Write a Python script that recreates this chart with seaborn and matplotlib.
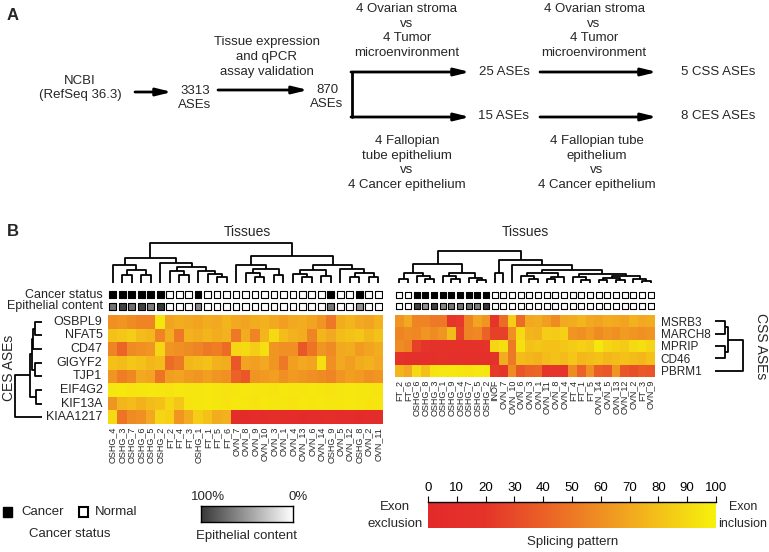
import numpy as np
import pandas as pd
import matplotlib
matplotlib.use("Agg")
import matplotlib.pyplot as plt
import seaborn as sns
from matplotlib.colors import LinearSegmentedColormap
from matplotlib.patches import Rectangle

# ---------------- data ----------------
ces_genes = ["OSBPL9", "NFAT5", "CD47", "GIGYF2", "TJP1", "EIF4G2", "KIF13A", "KIAA1217"]
left_samples = ["OSHG_4", "OSHG_3", "OSHG_7", "OSHG_6", "OSHG_5", "OSHG_2", "FT_2", "FT_4",
                "FT_3", "OSHG_1", "FT_1", "FT_5", "FT_6", "OVN_7", "OVN_8", "OVN_9", "OVN_10",
                "OVN_3", "OVN_1", "OVN_4", "OVN_13", "OVN_6", "OVN_14", "OSHG_9", "OVN_5",
                "OVN_12", "OSHG_8", "OVN_2", "OVN_11"]
osbpl9 = [60, 62, 58, 55, 55, 95, 68, 72, 70, 68, 72, 70, 75, 70, 68, 72, 74, 70, 66, 70,
          72, 68, 62, 50, 72, 75, 70, 68, 74]
nfat5 = [80, 82, 85, 78, 76, 55, 72, 50, 74, 72, 75, 72, 74, 50, 72, 55, 75, 90, 78, 74,
         72, 55, 75, 70, 78, 80, 82, 76, 80]
cd47 = [55, 42, 58, 60, 62, 88, 62, 60, 58, 55, 50, 52, 45, 88, 90, 85, 92, 62, 60, 60,
        35, 48, 62, 58, 70, 72, 65, 68, 72]
gigyf2 = [80, 78, 82, 80, 76, 78, 45, 50, 76, 78, 80, 74, 72, 35, 68, 66, 70, 62, 50, 66,
          70, 68, 92, 60, 70, 66, 72, 74, 70]
tjp1 = [62, 52, 56, 70, 68, 48, 66, 68, 64, 62, 66, 62, 60, 40, 35, 62, 64, 66, 60, 64,
        62, 60, 58, 55, 62, 66, 64, 60, 62]
eif4g2 = [95, 96, 94, 95, 96, 95, 94, 96, 95, 95, 96, 95, 94, 95, 96, 95, 95, 94, 96, 95,
          95, 96, 95, 94, 95, 96, 95, 95, 94]
kif13a = [62, 75, 78, 74, 78, 80, 88, 82, 94, 95, 96, 95, 94, 96, 95, 94, 96, 95, 95, 94,
          96, 95, 96, 95, 95, 96, 95, 94, 95]
kiaa1217 = [90, 48, 58, 60, 70, 88, 86, 62, 72, 85, 80, 72, 74, 5, 4, 6, 5, 8, 5, 6,
            4, 6, 5, 8, 6, 5, 4, 6, 5]

css_genes = ["MSRB3", "MARCH8", "MPRIP", "CD46", "PBRM1"]
right_samples = ["FT_2", "FT_6", "OSHG_6", "OSHG_8", "OSHG_3", "OSHG_1", "OSHG_9", "OSHG_4",
                 "OSHG_7", "OSHG_5", "OSHG_2", "INOF", "OVN_7", "OVN_10", "OVN_6", "OVN_3",
                 "OVN_1", "OVN_11", "OVN_8", "OVN_4", "FT_4", "FT_1", "FT_5", "OVN_14",
                 "OVN_5", "OVN_13", "OVN_12", "OVN_2", "FT_3", "OVN_9"]
msrb3 = [62, 70, 55, 55, 50, 50, 20, 22, 55, 68, 62, 20, 45, 85, 45, 70, 72, 66, 58, 70,
         72, 75, 70, 68, 72, 70, 68, 74, 70, 72]
march8 = [55, 58, 56, 62, 58, 62, 78, 25, 55, 56, 40, 25, 25, 60, 90, 75, 74, 85, 84, 86,
          62, 60, 64, 58, 62, 60, 65, 62, 60, 62]
mprip = [58, 55, 25, 18, 15, 15, 14, 15, 14, 15, 16, 88, 92, 50, 92, 80, 82, 80, 80, 82,
         84, 86, 84, 95, 88, 86, 84, 90, 92, 88]
cd46 = [15, 12, 12, 10, 12, 14, 10, 12, 10, 12, 10, 14, 72, 50, 78, 76, 74, 78, 80, 78,
        82, 76, 78, 80, 76, 78, 80, 78, 76, 80]
pbrm1 = [75, 70, 90, 80, 94, 95, 96, 95, 94, 96, 95, 22, 20, 58, 35, 40, 42, 20, 18, 20,
         58, 40, 60, 38, 36, 62, 35, 32, 36, 34]

cancer_samples = ["OSHG_1", "OSHG_2", "OSHG_3", "OSHG_4", "OSHG_5", "OSHG_6", "OSHG_7",
                  "OSHG_8", "OSHG_9"]
epithelial_pct = {"OSHG_4": 70, "OSHG_3": 95, "OSHG_7": 72, "OSHG_6": 95, "OSHG_5": 65,
                  "OSHG_2": 100, "OSHG_1": 60, "OSHG_9": 68, "OSHG_8": 55}

# dendrograms: (left, right, merge height); ints are leaves in display order
left_col_tree = (((0, ((1, 2, 8), (3, 4, 8), 13), 18),
                  (5, ((6, (7, 8, 8), 12), (9, (10, (11, 12, 6), 9), 12), 16), 20), 25),
                 ((13, ((14, (15, 16, 6), 10), (17, 18, 8), 14), 18),
                  ((((19, (20, 21, 6), 9), (22, 23, 7), 13)),
                   (24, ((25, 26, 6), (27, 28, 6), 10), 14), 18), 27), 40)
right_col_tree = ((((0, 1, 4), (2, (3, 4, 4), 7), 10),
                   ((5, (6, 7, 4), 7), (8, (9, 10, 3), 5), 10), 19),
                  ((11, 12, 10),
                   (13, (((14, (15, 16, 4), 7), ((17, 18, 4), 19, 6), 10),
                         ((20, (21, 22, 3), 6),
                          (((23, 24, 3), (25, 26, 3), 5), (27, (28, 29, 2), 4), 7), 9), 13), 18),
                   23), 32)
ces_row_tree = (((((0, 1, 7), 2, 9), (3, 4, 7), 10), (5, 6, 6), 12), 7, 27)
css_row_tree = (((0, 1, 10), (2, 3, 10), 13), 4, 28)

splice_ticks = list(range(0, 101, 10))

# ---------------- style ----------------
sns.set_style("white")
plt.rcParams["font.family"] = ["Liberation Sans", "DejaVu Sans"]

W, H = 769, 552
fig = plt.figure(figsize=(W / 100, H / 100), dpi=100)
fig.patch.set_facecolor("white")

splice_cmap = LinearSegmentedColormap.from_list(
    "splice", [(0, "#e32a2a"), (0.2, "#e5352a"), (0.45, "#ec6c26"),
               (0.7, "#f2a820"), (1.0, "#f7f20c")])
epi_cmap = LinearSegmentedColormap.from_list("epi", ["#ffffff", "#383838"])


def px_axes(x0, y0, x1, y1):
    return fig.add_axes([x0 / W, 1 - y1 / H, (x1 - x0) / W, (y1 - y0) / H])


def draw_tree(ax, tree, orient="top"):
    def walk(n):
        if isinstance(n, int):
            return n + 0.5, 0.0
        l, r, h = n
        xl, hl = walk(l)
        xr, hr = walk(r)
        xs, ys = [xl, xl, xr, xr], [hl, h, h, hr]
        if orient == "top":
            ax.plot(xs, ys, color="k", lw=1.3, solid_capstyle="butt")
        else:
            ax.plot(ys, xs, color="k", lw=1.3, solid_capstyle="butt")
        return (xl + xr) / 2, h
    walk(tree)
    ax.axis("off")


def annot_rows(ax, samples, size):
    n = len(samples)
    xs = np.arange(n) + 0.5
    cancer = ["k" if s in cancer_samples else "white" for s in samples]
    epi = [epi_cmap(epithelial_pct.get(s, 0) / 100) for s in samples]
    ax.scatter(xs, np.zeros(n), marker="s", s=size, c=cancer, edgecolors="k", linewidths=0.8)
    ax.scatter(xs, np.ones(n), marker="s", s=size, c=epi, edgecolors="k", linewidths=0.8)
    ax.set_xlim(0, n)
    ax.set_ylim(1.5, -0.5)
    ax.axis("off")


# overlay for free text
ax0 = px_axes(0, 0, W, H)
ax0.set_xlim(0, W)
ax0.set_ylim(H, 0)
ax0.axis("off")

fs = 9.5


def txt(x, y, s, **kw):
    kw.setdefault("fontsize", fs)
    kw.setdefault("ha", "center")
    kw.setdefault("va", "center")
    ax0.text(x, y, s, linespacing=1.3, **kw)


def arrow(x0, x1, y):
    ax0.annotate("", xy=(x1, y), xytext=(x0, y),
                 arrowprops=dict(arrowstyle="-|>,head_length=0.9,head_width=0.22",
                                 lw=2, color="k", shrinkA=0, shrinkB=0))


# ---------------- panel A ----------------
txt(13, 15, "A", fontsize=12, fontweight="bold")
txt(80, 88, "NCBI\n(RefSeq 36.3)")
arrow(135, 172, 92)
txt(195, 98, "3313\nASEs")
txt(267, 57, "Tissue expression\nand qPCR\nassay validation")
arrow(218, 308, 90)
txt(327, 97, "870\nASEs")
ax0.plot([352, 352], [72, 117], color="k", lw=2)
arrow(351, 470, 72)
arrow(351, 470, 117)
txt(407, 31, "4 Ovarian stroma\nvs\n4 Tumor\nmicroenvironment")
txt(407, 163, "4 Fallopian\ntube epithelium\nvs\n4 Cancer epithelium")
txt(504, 72, "25 ASEs")
txt(504, 116, "15 ASEs")
arrow(540, 657, 72)
arrow(540, 657, 117)
txt(594, 31, "4 Ovarian stroma\nvs\n4 Tumor\nmicroenvironment")
txt(597, 163, "4 Fallopian tube\nepithelium\nvs\n4 Cancer epithelium")
txt(718, 72, "5 CSS ASEs")
txt(718, 116, "8 CES ASEs")

# ---------------- panel B ----------------
txt(13, 232, "B", fontsize=12, fontweight="bold")
txt(247, 232, "Tissues", fontsize=10)
txt(525, 232, "Tissues", fontsize=10)

# left heatmap (CES)
ces_df = pd.DataFrame([osbpl9, nfat5, cd47, gigyf2, tjp1, eif4g2, kif13a, kiaa1217],
                      index=ces_genes, columns=left_samples)
axl = px_axes(108, 315, 383, 424)
sns.heatmap(ces_df, ax=axl, cmap=splice_cmap, vmin=0, vmax=100, cbar=False,
            xticklabels=True, yticklabels=True)
axl.set_xticklabels(left_samples, rotation=90, fontsize=6.5)
axl.set_yticklabels(ces_genes, rotation=0, fontsize=9)
axl.tick_params(length=0, pad=2)
axl.tick_params(axis="y", pad=4)
axl.set_xlabel("")
axl.set_ylabel("")

tl = px_axes(108, 240, 383, 283)
draw_tree(tl, left_col_tree)
tl.set_xlim(0, len(left_samples))
tl.set_ylim(0, 43)

annot_rows(px_axes(108, 289, 383, 312), left_samples, 24)
txt(103, 295, "Cancer status", fontsize=9, ha="right")
txt(103, 306, "Epithelial content", fontsize=9, ha="right")

rl = px_axes(12, 315, 42, 424)
draw_tree(rl, ces_row_tree, orient="left")
rl.set_xlim(30, 0)
rl.set_ylim(len(ces_genes), 0)
txt(9, 368, "CES ASEs", fontsize=10, rotation=90)

# right heatmap (CSS)
css_df = pd.DataFrame([msrb3, march8, mprip, cd46, pbrm1],
                      index=css_genes, columns=right_samples)
axr = px_axes(395, 315, 655, 377)
sns.heatmap(css_df, ax=axr, cmap=splice_cmap, vmin=0, vmax=100, cbar=False,
            xticklabels=True, yticklabels=True)
axr.yaxis.tick_right()
axr.set_xticklabels(right_samples, rotation=90, fontsize=6.5)
axr.set_yticklabels(css_genes, rotation=0, fontsize=8.5)
axr.tick_params(length=0, pad=2)
axr.tick_params(axis="y", pad=4)
axr.set_xlabel("")
axr.set_ylabel("")

tr = px_axes(395, 240, 655, 283)
draw_tree(tr, right_col_tree)
tr.set_xlim(0, len(right_samples))
tr.set_ylim(0, 43)

annot_rows(px_axes(395, 289, 655, 312), right_samples, 19)

rr = px_axes(715, 315, 746, 377)
draw_tree(rr, css_row_tree, orient="left")
rr.set_xlim(0, 31)
rr.set_ylim(len(css_genes), 0)
txt(761, 346, "CSS ASEs", fontsize=10, rotation=270)

# ---------------- legends ----------------
ax0.add_patch(Rectangle((3, 507), 9, 10, facecolor="k", edgecolor="k", lw=1))
txt(21, 512, "Cancer", fontsize=9.5, ha="left")
ax0.add_patch(Rectangle((79, 507), 9, 10, facecolor="white", edgecolor="k", lw=1.5))
txt(95, 512, "Normal", fontsize=9.5, ha="left")
txt(70, 534, "Cancer status", fontsize=9.5)

eax = px_axes(201, 506, 293, 522)
eax.imshow(np.linspace(100, 0, 256)[None, :], cmap=epi_cmap, vmin=0, vmax=100,
           aspect="auto")
eax.set_xticks([])
eax.set_yticks([])
for sp in eax.spines.values():
    sp.set_visible(True)
    sp.set_color("k")
    sp.set_linewidth(1)
txt(208, 497, "100%", fontsize=9.5)
txt(298, 497, "0%", fontsize=9.5)
txt(247, 536, "Epithelial content", fontsize=9.5)

cax = px_axes(428, 502, 716, 528)
cax.imshow(np.linspace(0, 100, 256)[None, :], cmap=splice_cmap, vmin=0, vmax=100,
           aspect="auto", extent=[0, 100, 0, 1])
cax.set_xticks(splice_ticks)
cax.xaxis.tick_top()
cax.set_yticks([])
for s in ["left", "right", "bottom"]:
    cax.spines[s].set_visible(False)
cax.spines["top"].set_color("k")
cax.spines["top"].set_linewidth(1)
cax.tick_params(axis="x", length=4, width=0.8, labelsize=9.5, pad=2, colors="k")
txt(395, 507, "Exon", fontsize=9.5)
txt(395, 524, "exclusion", fontsize=9.5)
txt(743, 507, "Exon", fontsize=9)
txt(743, 524, "inclusion", fontsize=9)
txt(573, 542, "Splicing pattern", fontsize=9.5)

fig.savefig("out.png", dpi=100)
